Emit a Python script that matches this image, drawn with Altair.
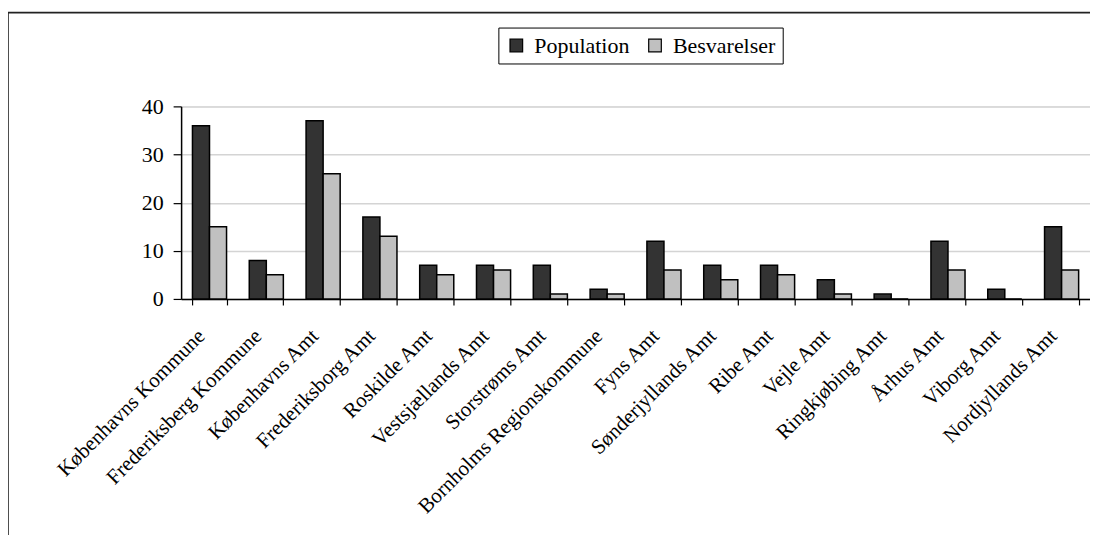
import altair as alt
import pandas as pd

regions = [
    "Københavns Kommune", "Frederiksberg Kommune", "Københavns Amt",
    "Frederiksborg Amt", "Roskilde Amt", "Vestsjællands Amt", "Storstrøms Amt",
    "Bornholms Regionskommune", "Fyns Amt", "Sønderjyllands Amt", "Ribe Amt",
    "Vejle Amt", "Ringkjøbing Amt", "Århus Amt", "Viborg Amt", "Nordjyllands Amt",
]
population = [36, 8, 37, 17, 7, 7, 7, 2, 12, 7, 7, 4, 1, 12, 2, 15]
besvarelser = [15, 5, 26, 13, 5, 6, 1, 1, 6, 4, 5, 1, 0, 6, 0, 6]
series = ["Population", "Besvarelser"]
colors = ["#333333", "#c0c0c0"]
y_ticks = [0, 10, 20, 30, 40]

rows = []
for i, r in enumerate(regions):
    rows.append({"region": r, "serie": series[0], "value": population[i]})
    rows.append({"region": r, "serie": series[1], "value": besvarelser[i]})
df = pd.DataFrame(rows)

FONT = "Liberation Serif"

bars = alt.Chart(df).mark_bar(stroke="black", strokeWidth=1.5).encode(
    x=alt.X("region:N", sort=regions, title=None,
            scale=alt.Scale(paddingInner=0.4, paddingOuter=0.2),
            axis=alt.Axis(labelAngle=-45, labelAlign="right", labelBaseline="top",
                          labelPadding=20, labelOffset=-16, labelLimit=400,
                          tickBand="extent",
                          tickSize=6, tickColor="black", domainColor="black",
                          domainWidth=1.5, tickWidth=1.2,
                          labelFont=FONT, labelFontSize=21, labelColor="black",
                          grid=False)),
    xOffset=alt.XOffset("serie:N", sort=series),
    y=alt.Y("value:Q", title=None,
            scale=alt.Scale(domain=[0, 40], nice=False),
            axis=alt.Axis(values=y_ticks, tickSize=8, tickColor="black",
                          domainColor="black", domainWidth=1.5, tickWidth=1.2,
                          labelPadding=10, labelFont=FONT, labelFontSize=22,
                          labelColor="black", grid=True, gridColor="#d4d4d4",
                          gridWidth=1.5)),
    color=alt.Color("serie:N", sort=series,
                    scale=alt.Scale(domain=series, range=colors),
                    legend=alt.Legend(title=None, orient="none", legendX=318,
                                      legendY=-79, direction="horizontal",
                                      strokeColor="black", fillColor="white",
                                      padding=7, symbolType="square",
                                      symbolSize=160, symbolStrokeColor="black",
                                      symbolStrokeWidth=1.2, symbolOpacity=1,
                                      labelFont=FONT, labelFontSize=22,
                                      labelColor="black", labelOffset=7,
                                      columnPadding=14)),
)

frame = alt.Chart(alt.Data(values=[{}])).mark_rect(
    fill="transparent", stroke="#222222", strokeWidth=1.6
).encode(
    x=alt.value(-173.5), x2=alt.value(1100), y=alt.value(-94), y2=alt.value(480)
)

chart = alt.layer(frame, bars).properties(
    width=911, height=193,
    autosize=alt.AutoSizeParams(type="none"),
    padding={"left": 173.5, "top": 98, "right": 0, "bottom": 236},
).configure_view(stroke="#808080", strokeWidth=1.5).configure(background="white")

chart.save("out.html", embed_options={"renderer": "svg", "actions": False})
